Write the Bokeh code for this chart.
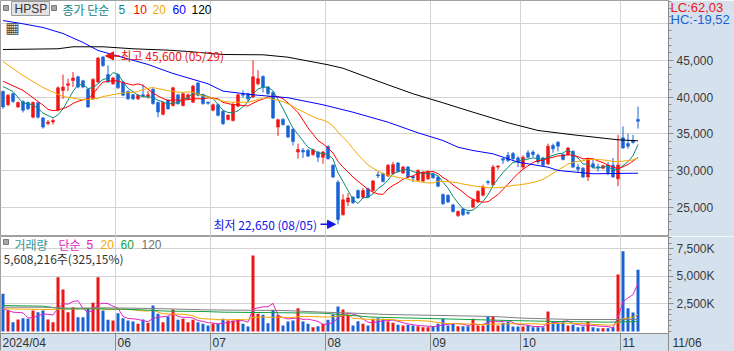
import pandas as pd
from bokeh.plotting import figure
from bokeh.layouts import column
from bokeh.models import (Range1d, FixedTicker, NumeralTickFormatter, Label, Arrow,
                          NormalHead, ColumnDataSource, BoxAnnotation)
from bokeh.core.properties import value
from bokeh.embed import file_html
from bokeh.resources import INLINE

# ---------------- data ----------------
first_day = "2024-04-26"
last_day = "2024-11-06"
krx_holidays = ["2024-05-01", "2024-05-06", "2024-05-15", "2024-06-06", "2024-08-15",
                "2024-09-16", "2024-09-17", "2024-09-18", "2024-10-01", "2024-10-03", "2024-10-09"]

open_ = [40750, 38950, 40450, 38650, 39400, 39250, 37250, 39200, 37150, 36400,
         36600, 38200, 40900, 41600, 42250, 42750, 42200, 41050, 39750, 42050,
         45450, 43050, 41800, 43050, 42050, 40750, 40300, 39750, 40300, 40100,
         41050, 39250, 37650, 39550, 38850, 40300, 38850, 39750, 39300, 41900,
         40300, 39300, 38200, 38950, 38050, 36950, 36800, 38750, 40450, 40450,
         40000, 41800, 42800, 41350, 40600, 35900, 36950, 36050, 35600, 32500,
         32750, 32750, 32150, 32500, 31800, 33250, 30700, 28400, 23950, 25700,
         26350, 27250, 26350, 27500, 27250, 29400, 29550, 29250, 29550, 31000,
         29650, 30450, 29200, 28650, 28550, 28850, 29550, 29100, 26700, 26600,
         25300, 23850, 24750, 24300, 25000, 25700, 26600, 28500, 28050, 30450,
         31600, 32050, 32300, 31700, 30450, 32400, 32500, 32050, 31700, 30900,
         33400, 33850, 32150, 32150, 32600, 30450, 30300, 29100, 30900, 30500,
         30300, 30750, 30700, 28850, 34450, 33650, 34100, 36950]
high = [40900, 40400, 40600, 39400, 39550, 39400, 39400, 39350, 37300, 36850,
        37050, 41450, 43050, 42500, 43400, 42900, 42350, 41200, 42550, 45450,
        45600, 44300, 42750, 43200, 42200, 40900, 40450, 40400, 41700, 40800,
        41200, 39400, 39400, 39700, 41400, 40450, 40600, 40450, 41650, 42050,
        40450, 39400, 39100, 39100, 38200, 37650, 39250, 40450, 40900, 40600,
        45000, 43650, 42950, 41500, 40750, 37050, 37100, 36200, 35750, 33650,
        33050, 32900, 32950, 32650, 32650, 33400, 30850, 28650, 26750, 26900,
        26500, 27400, 27600, 27650, 28700, 29850, 29700, 30850, 31150, 31150,
        30600, 30600, 29300, 30150, 29900, 30000, 29700, 29250, 26850, 26750,
        25450, 24550, 24900, 24400, 26150, 27300, 28050, 28650, 30750, 30700,
        31700, 32500, 32500, 31950, 32050, 32750, 32750, 32300, 31850, 33650,
        33650, 33950, 32300, 33200, 32750, 30900, 30450, 31750, 31500, 30900,
        30750, 31150, 31700, 34850, 36000, 35000, 34850, 38700]
low = [38400, 38750, 39200, 38500, 37900, 38200, 37100, 37050, 35700, 36150,
       36250, 38050, 39750, 40800, 41350, 41200, 41200, 38500, 39600, 41900,
       44100, 41900, 41650, 41100, 40100, 39600, 39600, 39600, 40000, 39750,
       38950, 37250, 37500, 38250, 38700, 38950, 38700, 39600, 39150, 40100,
       38950, 38950, 38050, 37350, 36200, 36800, 36650, 38600, 39900, 39250,
       39850, 41600, 40600, 40300, 37000, 34700, 36100, 34400, 33400, 31600,
       31700, 31800, 32000, 31150, 30900, 31450, 28950, 22650, 23850, 25150,
       25450, 26100, 26150, 26200, 27100, 28950, 28350, 29100, 29400, 29700,
       29500, 28950, 28400, 28500, 28400, 28700, 28850, 27700, 25300, 25550,
       24250, 23650, 23800, 23950, 24850, 25550, 26450, 28050, 27900, 30100,
       30900, 31150, 31350, 30450, 30150, 31650, 31800, 30900, 30550, 30750,
       32400, 32600, 31350, 32000, 30300, 29750, 28950, 28550, 30250, 29850,
       30150, 29350, 29000, 27850, 32950, 32950, 33650, 35700]
close = [38650, 40250, 39400, 39250, 38200, 38400, 39250, 37250, 35900, 36600,
         36800, 41250, 41350, 41800, 42600, 41350, 41350, 38650, 42400, 45300,
         44300, 42050, 42600, 41250, 40250, 39750, 39750, 40250, 40150, 40300,
         39100, 37950, 39250, 38400, 41250, 39100, 40450, 40300, 41500, 40250,
         39100, 39150, 38950, 37500, 36350, 37500, 38950, 40300, 40250, 39750,
         42750, 42500, 41350, 40450, 37150, 36900, 36250, 34550, 33950, 32850,
         32500, 31950, 32800, 31800, 32500, 31600, 29100, 23300, 26000, 26250,
         25600, 26250, 27250, 26350, 28550, 29250, 28500, 30700, 30800, 29850,
         30450, 29100, 28950, 30000, 29750, 29850, 29000, 27850, 25450, 25700,
         24400, 24400, 23950, 24150, 26000, 27150, 27700, 28350, 30450, 30600,
         31400, 31350, 31600, 31150, 31800, 31800, 32150, 31150, 30700, 33300,
         32950, 33300, 31500, 33050, 30450, 30150, 29100, 31600, 30450, 30350,
         30650, 29700, 29100, 30750, 33050, 33300, 33800, 36700]
# volume in thousand shares
volume_k = [3424, 1909, 848, 1091, 1212, 1151, 1909, 1757, 1909, 1091,
            848, 4939, 3818, 1757, 2212, 1303, 1303, 2121, 2606, 4939,
            1909, 1060, 1000, 1666, 1212, 1000, 909, 697, 1091, 788,
            2363, 1606, 848, 1364, 2000, 1060, 1151, 848, 1060, 848,
            697, 545, 697, 697, 1151, 1000, 1000, 1091, 697, 455,
            6908, 1606, 1515, 758, 1970, 1515, 545, 909, 1000, 2121,
            909, 697, 394, 485, 697, 1060, 1545, 2272, 2000, 1515,
            545, 939, 697, 545, 1151, 1212, 1151, 909, 788, 606,
            545, 606, 545, 485, 394, 394, 455, 697, 1151, 545,
            697, 485, 485, 485, 1151, 545, 545, 1364, 1364, 545,
            788, 909, 455, 455, 455, 545, 394, 394, 394, 1818,
            909, 697, 848, 545, 606, 394, 455, 909, 394, 303,
            303, 303, 394, 5181, 7302, 2121, 1724.81, 5608.216]

ma5_head_idx, ma5_head_val = [0, 2], [41430, 40750]
ma10_head_idx, ma10_head_val = [0, 4, 8], [42150, 40900, 38900]
ma20_head_idx, ma20_head_val = [0, 4, 8, 12, 16], [44840, 42930, 41290, 40070, 39620]
ma60_idx = [0, 4, 8, 12, 16, 19, 24, 29, 34, 41, 44, 50, 57, 64, 70, 77, 83, 88, 91, 94,
            98, 103, 109, 111, 118, 127]
ma60_val = [50420, 49970, 49470, 48650, 47430, 46340, 45380, 44430, 43200, 41800, 40800,
            40300, 39900, 38940, 37930, 36570, 35120, 34070, 33160, 32710, 32260, 31120,
            30440, 29990, 29540, 29620]
ma120_idx = [0, 11, 14, 20, 26, 33, 37, 44, 52, 57, 65, 68, 72, 77, 82, 88, 94, 101,
             107, 114, 123, 127]
ma120_val = [46470, 46570, 46840, 46840, 46570, 46380, 46200, 45790, 45750, 45420, 44390,
             43920, 42900, 41660, 40440, 39210, 37930, 36490, 35440, 34850, 34170, 34030]
vma5_head_idx, vma5_head_val = [0, 2], [2060, 1757]
vma20_head_idx, vma20_head_val = [0, 9], [2060, 2000]
vma60_idx = [0, 8, 12, 20, 26, 33, 40, 44, 64, 74, 88, 101, 111, 121, 127]
vma60_val = [2360, 2300, 2060, 2060, 2000, 1850, 1820, 1757, 1667, 1300, 1150, 1000, 909, 848, 909]
vma120_idx = [0, 8, 13, 20, 26, 33, 40, 44, 56, 64, 70, 77, 88, 98, 104, 114, 127]
vma120_val = [2210, 2210, 2120, 2150, 2120, 2060, 1970, 1950, 1910, 1760, 1670, 1545, 1454,
              1364, 1212, 1091, 1091]

price_ticks = [25000, 30000, 35000, 40000, 45000, 50000]
vol_ticks = [2500, 5000, 7500]
vol_tick_labels = ["2,500K", "5,000K", "7,500K"]

# ---------------- derived ----------------
dates = [d for d in pd.bdate_range(first_day, last_day) if d.strftime("%Y-%m-%d") not in krx_holidays]
n = len(dates)
UP, DOWN = "#ee1515", "#1862d6"
cols = [UP if c >= o else DOWN for o, c in zip(open_, close)]
src = ColumnDataSource(dict(
    x=[i + 0.5 for i in range(n)], o=open_, h=high, l=low, c=close,
    top=[max(o, c) for o, c in zip(open_, close)], bot=[min(o, c) for o, c in zip(open_, close)],
    col=cols, vol=volume_k))

month_ticks, month_labels = [], []
for i, d in enumerate(dates):
    if i == 0:
        month_ticks.append(i); month_labels.append(d.strftime("%Y/%m"))
    elif d.month != dates[i - 1].month and i - month_ticks[-1] >= 10:
        month_ticks.append(i); month_labels.append(d.strftime("%m"))


def ma_points(values, win, head_idx, head_val):
    s = pd.Series(values, dtype=float).rolling(win).mean()
    xs = [i + 0.5 for i in head_idx] + [i + 0.5 for i in range(win - 1, len(values))]
    ys = list(head_val) + [float(s[i]) for i in range(win - 1, len(values))]
    return xs, ys


def sample_points(idx, val):
    return [i + 0.5 for i in idx], val


AXIS_C = "#8c8c8c"
GRID_C = "#d3d3d3"
BAND = "#d6e1ee"
NUM_FONT = "Liberation Sans"
KR_FONT = "Noto Sans CJK KR"


def style_yaxis(ax):
    ax.axis_line_color = AXIS_C
    ax.major_tick_line_color = AXIS_C
    ax.minor_tick_line_color = AXIS_C
    ax.major_tick_out = 5
    ax.major_tick_in = 0
    ax.minor_tick_out = 3
    ax.minor_tick_in = 0
    ax.major_label_standoff = 3
    ax.major_label_text_font = NUM_FONT
    ax.major_label_text_font_size = "12px"
    ax.major_label_text_color = "#3a3a3a"


def outside_text(fig, xs, ys, texts, color, x_off, y_off, font=NUM_FONT, size="12px", align="left"):
    """Text drawn at overlay level so that it can sit in the axis borders."""
    fig.text(x=xs, y=ys, text=texts, text_color=color, text_font=value(font),
             text_font_size=size, x_offset=x_off, y_offset=y_off, text_align=align,
             text_baseline="middle", level="overlay")


def box(fig, left, top, right, bottom, fh, fill, line):
    """Screen-unit box, coordinates measured from the top-left of the frame."""
    fig.add_layout(BoxAnnotation(left=left, right=right, top=fh - top, bottom=fh - bottom,
                                 left_units="screen", right_units="screen", top_units="screen",
                                 bottom_units="screen", fill_color=fill, fill_alpha=1,
                                 line_color=line, line_alpha=1, line_width=1))


def txt(fig, x, y, text, color, font=KR_FONT, size="12px"):
    fig.add_layout(Label(x=x, y=y, x_units="screen", y_units="screen", text=text,
                         text_color=color, text_font=font, text_font_size=size,
                         text_baseline="middle", text_align="left"))


x_rng = Range1d(0, 133.6)

# ---------------- price panel ----------------
PH = 236
p_rng = Range1d(20995, 53147)
p = figure(width=734, height=PH, x_range=x_rng, y_range=p_rng,
           x_axis_location=None, y_axis_location="right", output_backend="svg",
           toolbar_location=None, min_border_left=0, min_border_right=66,
           min_border_top=0, min_border_bottom=0)
p.background_fill_color = "white"
p.border_fill_color = BAND
p.outline_line_color = "#a0a0a0"
p.yaxis.ticker = FixedTicker(ticks=price_ticks, minor_ticks=list(range(21000, 53001, 1000)))
p.yaxis.formatter = NumeralTickFormatter(format="0,0")
p.yaxis.major_label_overrides = {50000: ""}
style_yaxis(p.yaxis[0])
p.ygrid.ticker = FixedTicker(ticks=price_ticks)
p.ygrid.grid_line_color = GRID_C
p.xgrid.ticker = FixedTicker(ticks=month_ticks)
p.xgrid.grid_line_color = GRID_C

p.segment(x0="x", y0="h", x1="x", y1="l", color="col", line_width=1, source=src)
p.vbar(x="x", width=0.6, top="top", bottom="bot", fill_color="col", line_color="col",
       line_width=0.5, source=src)

ma_specs = [
    (ma_points(close, 5, ma5_head_idx, ma5_head_val), "#0a8a7a"),
    (ma_points(close, 10, ma10_head_idx, ma10_head_val), "#ff0000"),
    (ma_points(close, 20, ma20_head_idx, ma20_head_val), "#f2a900"),
    (sample_points(ma60_idx, ma60_val), "#0000ff"),
    (sample_points(ma120_idx, ma120_val), "#000000"),
]
for (mx, my), c in ma_specs:
    p.line(mx, my, line_color=c, line_width=1)

# high / low markers
hi_i = max(range(n), key=lambda i: high[i])
lo_i = min(range(n), key=lambda i: low[i])
HI_C, LO_C = "#ee1515", "#1414e6"
p.add_layout(Arrow(end=NormalHead(size=8, fill_color=HI_C, line_color=HI_C),
                   x_start=hi_i + 0.5 + 3.3, y_start=high[hi_i], x_end=hi_i + 0.5 + 0.5,
                   y_end=high[hi_i], line_color=HI_C, line_width=1.5))
p.add_layout(Label(x=hi_i + 0.5 + 3.5, y=high[hi_i], text=f"최고 {high[hi_i]:,} ({dates[hi_i]:%m/%d})",
                   text_color=HI_C, text_font=KR_FONT, text_font_size="12px",
                   text_baseline="middle", text_align="left"))
p.add_layout(Arrow(end=NormalHead(size=8, fill_color=LO_C, line_color=LO_C),
                   x_start=lo_i + 0.5 - 3.5, y_start=low[lo_i], x_end=lo_i + 0.5 - 0.5,
                   y_end=low[lo_i], line_color=LO_C, line_width=1.5))
p.add_layout(Label(x=lo_i + 0.5 - 4.2, y=low[lo_i], text=f"최저 {low[lo_i]:,} ({dates[lo_i]:%m/%d})",
                   text_color=LO_C, text_font=KR_FONT, text_font_size="12px",
                   text_baseline="middle", text_align="right"))

# top legend
box(p, 3, 5, 8, 10, PH, "#a8a8a8", "#7a7a7a")
box(p, 11, 1, 49, 15, PH, "#e2e2e2", "#9c9c9c")
txt(p, 14, PH - 8, "HPSP", "#333333", font=NUM_FONT)
box(p, 51, 5, 56, 10, PH, "#a8a8a8", "#7a7a7a")
txt(p, 62, PH - 9, "종가 단순", "#128282")
for x, t, c in [(118, "5", "#128282"), (133, "10", "#ff0000"), (152, "20", "#f2a900"),
                (172, "60", "#0000ff"), (191, "120", "#000000")]:
    txt(p, x, PH - 9, t, c, font=NUM_FONT)
txt(p, 5, PH - 27, "▦", "#4a4a4a", font="DejaVu Sans", size="15px")

lc = (close[-1] / low[lo_i] - 1) * 100
hc = (close[-1] / high[hi_i] - 1) * 100
outside_text(p, [x_rng.end], [p_rng.end], [f"LC:{lc:.2f}".replace(".", ",")], "#ee1515", 2, 7, size="13px")
outside_text(p, [x_rng.end], [p_rng.end], [f"HC:{hc:.2f}".replace(".", ",")], "#1862d6", 2, 19, size="13px")

# ---------------- volume panel ----------------
VF = 97
BAND_H = 18
v_rng = Range1d(-182, 8636)
v = figure(width=734, height=VF + BAND_H, x_range=x_rng, y_range=v_rng,
           x_axis_location="below", y_axis_location="right", output_backend="svg",
           toolbar_location=None, min_border_left=0, min_border_right=66,
           min_border_top=0, min_border_bottom=BAND_H)
v.background_fill_color = "white"
v.border_fill_color = BAND
v.outline_line_color = "#a0a0a0"
v.yaxis.ticker = FixedTicker(ticks=vol_ticks, minor_ticks=list(range(0, 8601, 500)))
v.yaxis.major_label_overrides = {t: l for t, l in zip(vol_ticks, vol_tick_labels)}
style_yaxis(v.yaxis[0])
v.ygrid.ticker = FixedTicker(ticks=vol_ticks)
v.ygrid.grid_line_color = GRID_C
v.xgrid.ticker = FixedTicker(ticks=month_ticks)
v.xgrid.grid_line_color = GRID_C
xa = v.xaxis[0]
xa.ticker = FixedTicker(ticks=month_ticks)
xa.major_label_overrides = {t: "" for t in month_ticks}
xa.major_label_text_font_size = "0px"
xa.major_label_standoff = 0
xa.major_tick_out = 17
xa.major_tick_in = 0
xa.major_tick_line_color = AXIS_C
xa.axis_line_color = AXIS_C

v.vbar(x="x", width=0.6, top="vol", bottom=0, fill_color="col", line_color=None, source=src)
vma_specs = [
    (ma_points(volume_k, 5, vma5_head_idx, vma5_head_val), "#e024c4"),
    (ma_points(volume_k, 20, vma20_head_idx, vma20_head_val), "#f2a900"),
    (sample_points(vma60_idx, vma60_val), "#12a040"),
    (sample_points(vma120_idx, vma120_val), "#808080"),
]
for (mx, my), c in vma_specs:
    v.line(mx, my, line_color=c, line_width=1)

box(v, 3, 3, 8, 8, VF, "#a8a8a8", "#7a7a7a")
txt(v, 14, VF - 8, "거래량", "#2f9696")
txt(v, 58, VF - 8, "단순", "#e024c4")
for x, t, c in [(86, "5", "#e024c4"), (100, "20", "#f2a900"), (120, "60", "#12a040"),
                (141, "120", "#707070")]:
    txt(v, x, VF - 8, t, c, font=NUM_FONT)
ratio = volume_k[-1] / volume_k[-2] * 100
txt(v, 3, VF - 22, f"{round(volume_k[-1] * 1000):,}주({ratio:.2f}%)".replace(".", ","), "#333333")

# month names under the volume panel, the current date under the axis, and its separator
outside_text(v, month_ticks, [v_rng.start] * len(month_ticks), month_labels, "#333333", 2, 9)
outside_text(v, [x_rng.end], [v_rng.start], [f"{dates[-1]:%m/%d}"], "#333333", 4, 9)
per_px = (v_rng.end - v_rng.start) / VF
v.segment(x0=[x_rng.end], y0=[v_rng.start], x1=[x_rng.end], y1=[v_rng.start - BAND_H * per_px],
          line_color=AXIS_C, line_width=1, level="overlay")

layout = column(p, v, spacing=0)
open("out.html", "w").write(file_html(layout, INLINE))
